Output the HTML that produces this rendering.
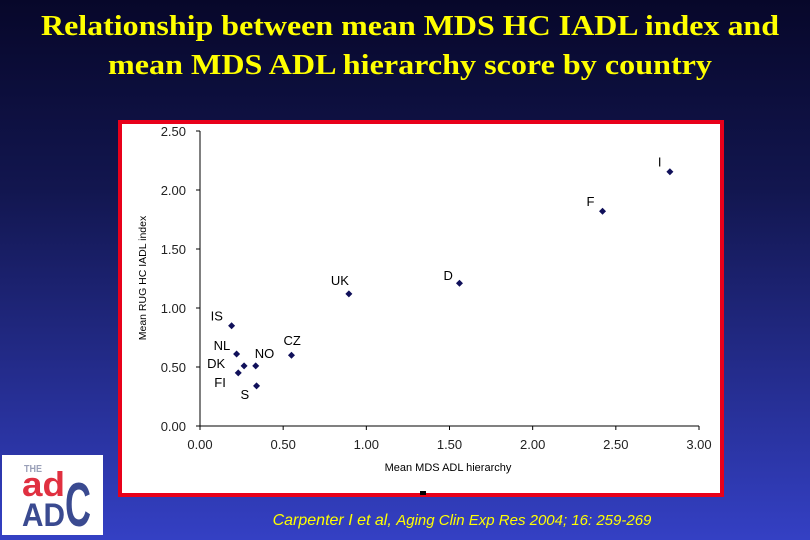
<!DOCTYPE html>
<html><head><meta charset="utf-8"><style>
html,body{margin:0;padding:0;width:810px;height:540px;overflow:hidden}
svg{display:block}
</style></head><body>
<svg id="c" width="810" height="540" xmlns="http://www.w3.org/2000/svg">
<defs><linearGradient id="bg" x1="0" y1="0" x2="0" y2="1">
<stop offset="0" stop-color="#07072a"/><stop offset="0.35" stop-color="#12164f"/><stop offset="1" stop-color="#3440c4"/></linearGradient></defs>
<rect width="810" height="540" fill="url(#bg)"/>
<g font-family="'Liberation Serif',serif" font-weight="bold" font-size="29" fill="#ffff00" text-anchor="middle">
<text x="410" y="35" textLength="738" lengthAdjust="spacingAndGlyphs">Relationship between mean MDS HC IADL index and</text>
<text x="410" y="74" textLength="604" lengthAdjust="spacingAndGlyphs">mean MDS ADL hierarchy score by country</text>
</g>
<rect x="120" y="122" width="602" height="373" fill="#fff" stroke="#e8001a" stroke-width="4"/>
<rect x="420" y="491" width="6" height="4" fill="#000"/>
<g id="plot" font-family="'Liberation Sans',sans-serif"></g>
<text x="462" y="525" font-family="'Liberation Sans',sans-serif" font-style="italic" font-size="16" fill="#ffff00" text-anchor="middle">Carpenter I et al, <tspan font-size="15">Aging Clin Exp Res 2004; 16: 259-269</tspan></text>
<g>
<rect x="2" y="455" width="101" height="80" fill="#fff"/>
<text x="24" y="472" font-family="'Liberation Sans',sans-serif" font-weight="bold" font-size="10" fill="#9aa0b8" textLength="18" lengthAdjust="spacingAndGlyphs">THE</text>
<text x="22" y="496" font-family="'Liberation Sans',sans-serif" font-weight="bold" font-size="34" fill="#e03040" textLength="43" lengthAdjust="spacingAndGlyphs">ad</text>
<text x="22" y="526" font-family="'Liberation Sans',sans-serif" font-weight="bold" font-size="32" fill="#3a4a90" textLength="43" lengthAdjust="spacingAndGlyphs">AD</text>
<text x="0" y="0" font-family="'Liberation Sans',sans-serif" font-weight="bold" font-size="40" fill="#3a4a90" textLength="26" lengthAdjust="spacingAndGlyphs" transform="translate(65,526) scale(1,1.55)">C</text>
</g>
</svg>
<script>
const countries=["I","F","D","UK","IS","NL","DK","NO","CZ","FI","S"];
const adlValues=[2.825,2.42,1.56,0.895,0.19,0.22,0.265,0.335,0.55,0.23,0.34];
const iadlValues=[2.155,1.82,1.21,1.12,0.85,0.61,0.51,0.51,0.60,0.45,0.34];
const xTicks=["0.00","0.50","1.00","1.50","2.00","2.50","3.00"];
const yTicks=["0.00","0.50","1.00","1.50","2.00","2.50"];
const labelDx=[-12,-16,-16,-18,-21,-23,-37,-1,-8,-24,-16];
const labelDy=[-5,-5,-3,-9,-5,-4,2,-8,-10,14,13];
const NS="http://www.w3.org/2000/svg";
const g=document.getElementById('plot');
const X0=200,X1=699,Y0=426,Y1=131;
function xs(v){return X0+(v-0)/3*(X1-X0);}
function ys(v){return Y0-(v-0)/2.5*(Y0-Y1);}
function mk(t,a){const e=document.createElementNS(NS,t);for(const k in a)e.setAttribute(k,a[k]);g.appendChild(e);return e;}
let ax=mk('line',{x1:X0,y1:Y0,x2:X1,y2:Y0,stroke:'#000','stroke-width':1});


let ay=mk('line',{x1:X0,y1:Y0,x2:X0,y2:Y1,stroke:'#000','stroke-width':1});


xTicks.forEach(function(t){const v=parseFloat(t),x=xs(v);
 mk('line',{x1:x,y1:Y0,x2:x,y2:Y0+4,stroke:'#000'});
 const e=mk('text',{x:x,y:Y0+23,'font-size':13,'text-anchor':'middle',fill:'#222'});e.textContent=t;
 
 });
yTicks.forEach(function(t){const v=parseFloat(t),y=ys(v);
 mk('line',{x1:X0-4,y1:y,x2:X0,y2:y,stroke:'#000'});
 const e=mk('text',{x:X0-14,y:y+5,'font-size':13,'text-anchor':'end',fill:'#222'});e.textContent=t;
 
 });
let xt=mk('text',{x:448,y:471,'font-size':11,'text-anchor':'middle',fill:'#000'});xt.textContent='Mean MDS ADL hierarchy';


let yt=mk('text',{x:0,y:0,'font-size':10.5,'text-anchor':'middle',fill:'#000',transform:'translate(146,278) rotate(-90)'});yt.textContent='Mean RUG HC IADL index';


countries.forEach(function(c,i){const x=xs(adlValues[i]),y=ys(iadlValues[i]);
 const p=mk('path',{d:'M'+x+' '+(y-3.5)+'L'+(x+3.5)+' '+y+'L'+x+' '+(y+3.5)+'L'+(x-3.5)+' '+y+'Z',fill:'#10105a'});
 
 
 const l=mk('text',{x:x+labelDx[i],y:y+labelDy[i],'font-size':13,fill:'#000'});l.textContent=c;
 
 });
</script>
</body></html>
